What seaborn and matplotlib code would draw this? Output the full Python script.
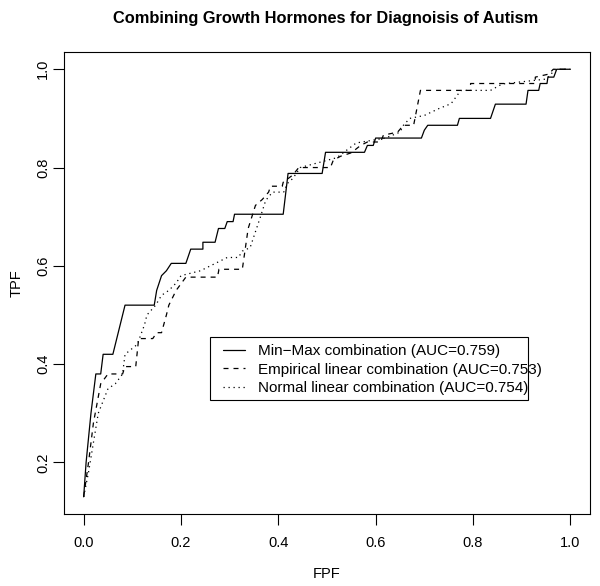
import pandas as pd
import seaborn as sns
import matplotlib.pyplot as plt
from matplotlib.lines import Line2D
from matplotlib.patches import Rectangle

# ROC curves (FPF, TPF vertices)
minmax_fpf = [0.0, 0.005, 0.015, 0.025, 0.035, 0.04, 0.06, 0.07, 0.08, 0.085, 0.145, 0.15, 0.16,
              0.17, 0.18, 0.21, 0.22, 0.245, 0.245, 0.27, 0.277, 0.29, 0.295, 0.307, 0.31, 0.41,
              0.42, 0.49, 0.497, 0.577, 0.583, 0.595, 0.6, 0.694, 0.7, 0.707, 0.768, 0.772, 0.836,
              0.846, 0.909, 0.913, 0.935, 0.938, 0.952, 0.954, 0.966, 0.972, 1.0]
minmax_tpf = [0.13, 0.2, 0.3, 0.38, 0.38, 0.42, 0.42, 0.46, 0.5, 0.52, 0.52, 0.55, 0.58,
              0.59, 0.605, 0.605, 0.634, 0.634, 0.648, 0.648, 0.676, 0.676, 0.69, 0.69, 0.705, 0.705,
              0.788, 0.788, 0.831, 0.831, 0.845, 0.845, 0.86, 0.86, 0.876, 0.886, 0.886, 0.9, 0.9,
              0.929, 0.929, 0.957, 0.957, 0.971, 0.971, 0.984, 0.984, 1.0, 1.0]

emp_fpf = [0.0, 0.01, 0.02, 0.035, 0.05, 0.08, 0.085, 0.107, 0.113, 0.142, 0.15, 0.16, 0.17,
           0.175, 0.19, 0.21, 0.275, 0.278, 0.326, 0.338, 0.353, 0.367, 0.38, 0.384, 0.408, 0.41,
           0.43, 0.442, 0.507, 0.513, 0.528, 0.55, 0.569, 0.583, 0.61, 0.616, 0.645, 0.657, 0.678,
           0.692, 0.795, 0.795, 0.928, 0.928, 0.955, 0.965, 1.0]
emp_tpf = [0.13, 0.2, 0.28, 0.36, 0.38, 0.38, 0.395, 0.395, 0.452, 0.452, 0.464, 0.464, 0.5,
           0.52, 0.55, 0.577, 0.577, 0.593, 0.593, 0.676, 0.723, 0.735, 0.75, 0.762, 0.762, 0.77,
           0.785, 0.8, 0.8, 0.815, 0.823, 0.83, 0.845, 0.852, 0.852, 0.866, 0.872, 0.886, 0.886,
           0.957, 0.957, 0.971, 0.971, 0.984, 0.99, 1.0, 1.0]

norm_fpf = [0.0, 0.01, 0.02, 0.03, 0.05, 0.065, 0.08, 0.085, 0.11, 0.125, 0.13, 0.148, 0.16,
            0.175, 0.19, 0.2, 0.24, 0.295, 0.318, 0.326, 0.342, 0.363, 0.374, 0.388, 0.411, 0.419,
            0.43, 0.445, 0.52, 0.56, 0.62, 0.65, 0.657, 0.67, 0.7, 0.73, 0.755, 0.772, 0.776,
            0.836, 0.86, 0.95, 0.97, 1.0]
norm_tpf = [0.13, 0.18, 0.24, 0.3, 0.35, 0.36, 0.38, 0.42, 0.44, 0.48, 0.5, 0.52, 0.54,
            0.55, 0.565, 0.58, 0.59, 0.617, 0.617, 0.63, 0.637, 0.699, 0.733, 0.75, 0.75, 0.768,
            0.778, 0.8, 0.82, 0.85, 0.86, 0.872, 0.886, 0.9, 0.906, 0.92, 0.93, 0.953, 0.957,
            0.957, 0.97, 0.98, 1.0, 1.0]

labels = ["Min\u2212Max combination (AUC=0.759)",
          "Empirical linear combination (AUC=0.753)",
          "Normal linear combination (AUC=0.754)"]

frames = []
for lab, fx, fy in zip(labels, [minmax_fpf, emp_fpf, norm_fpf], [minmax_tpf, emp_tpf, norm_tpf]):
    frames.append(pd.DataFrame({"FPF": fx, "TPF": fy, "method": lab}))
df = pd.concat(frames, ignore_index=True)

sns.set_style("ticks")
plt.rcParams["font.family"] = ["Liberation Sans", "DejaVu Sans"]
plt.rcParams["text.color"] = "black"
plt.rcParams["axes.labelcolor"] = "black"
plt.rcParams["xtick.color"] = "black"
plt.rcParams["ytick.color"] = "black"

fig = plt.figure(figsize=(6, 5.86), dpi=100)
ax = fig.add_axes([0.107, 0.123, 0.876, 0.788])

dash_map = {labels[0]: "", labels[1]: (4, 4), labels[2]: (1, 3)}
sns.lineplot(data=df, x="FPF", y="TPF", style="method", dashes=dash_map, sort=False,
             estimator=None, color="black", linewidth=0.9, ax=ax, legend=False)

ax.set_xlim(-0.04, 1.04)
ax.set_ylim(0.0952, 1.0348)
ax.set_xticks([0.0, 0.2, 0.4, 0.6, 0.8, 1.0])
ax.set_yticks([0.2, 0.4, 0.6, 0.8, 1.0])
ax.set_xticklabels(["0.0", "0.2", "0.4", "0.6", "0.8", "1.0"], fontsize=10.5)
ax.set_yticklabels(["0.2", "0.4", "0.6", "0.8", "1.0"], fontsize=10.5, rotation=90, va="center")
ax.tick_params(direction="out", length=8, width=0.8, color="black")
ax.tick_params(axis="x", pad=8)
ax.tick_params(axis="y", pad=2)
for s in ax.spines.values():
    s.set_visible(True)
    s.set_linewidth(0.8)
    s.set_color("black")

ax.set_xlabel("FPF", fontsize=10.5, labelpad=12)
ax.set_ylabel("TPF", fontsize=10.5, labelpad=9)
fig.suptitle("Combining Growth Hormones for Diagnoisis of Autism", fontsize=11.8,
             fontweight="bold", x=0.543, y=0.982)

# legend: R-style box whose text runs slightly past the frame
handles = [Line2D([], [], color="black", lw=0.9, linestyle=ls)
           for ls in ["-", (0, (4, 4)), (0, (1, 3))]]
ax.add_patch(Rectangle((0.26, 0.326), 0.654, 0.129, fill=False, edgecolor="black",
                       linewidth=0.8, zorder=5))
leg = ax.legend(handles, labels, loc="upper left", bbox_to_anchor=(0.287, 0.44),
                bbox_transform=ax.transData, borderaxespad=0, fontsize=11,
                frameon=False, handlelength=1.45, handletextpad=0.85,
                labelspacing=0.28, borderpad=0.0)

fig.savefig("out.png", dpi=100)
